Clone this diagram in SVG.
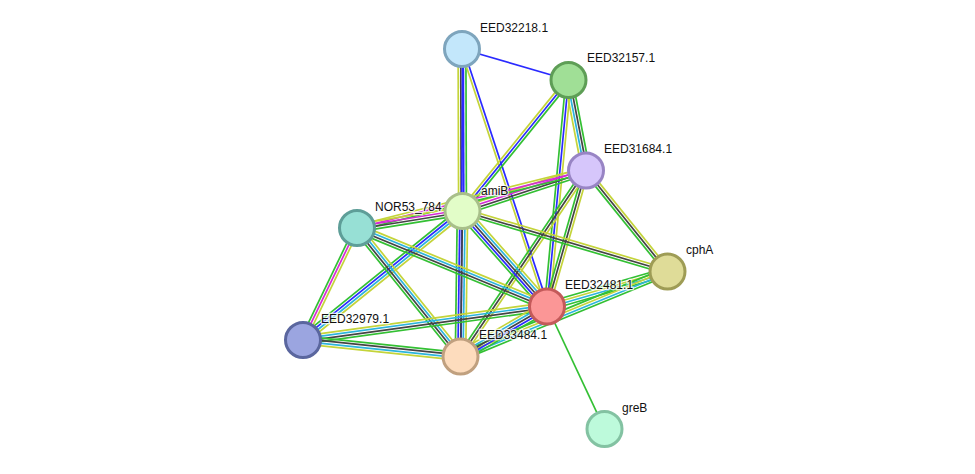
<svg xmlns="http://www.w3.org/2000/svg" width="975" height="474" viewBox="0 0 975 474">
<style>
line{stroke-width:1.7;fill:none}
.g{stroke:#33c033}.b{stroke:#2a2aff}.k{stroke:#444444}.m{stroke:#d62ad6}.c{stroke:#2cb4dc}.y{stroke:#c4d43a}
circle{stroke-width:3}
text{font-family:"Liberation Sans",Arial,sans-serif;font-size:12px;fill:#111;paint-order:stroke;stroke:#fff;stroke-width:2.5px;stroke-opacity:0.75}
</style>
<rect width="975" height="474" fill="#fff"/>
<g id="edges">
<g transform="translate(462,49) rotate(16.23)"><line class="b" x1="0" x2="110.9" y1="0" y2="0"/></g>
<g transform="translate(462,49) rotate(89.82)"><line class="g" x1="0" x2="162" y1="-3.9" y2="-3.9"/><line class="b" x1="0" x2="162" y1="-1.3" y2="-1.3"/><line class="k" x1="0" x2="162" y1="1.3" y2="1.3"/><line class="y" x1="0" x2="162" y1="3.9" y2="3.9"/></g>
<g transform="translate(462,49) rotate(90.28)"><line class="b" x1="0" x2="307.5" y1="-0.6" y2="-0.6"/></g>
<g transform="translate(462,49) rotate(71.73)"><line class="b" x1="0" x2="271.2" y1="-1.3" y2="-1.3"/><line class="y" x1="0" x2="271.2" y1="1.3" y2="1.3"/></g>
<g transform="translate(462.5,211) rotate(-51.02)"><line class="g" x1="0" x2="168.5" y1="2.6" y2="2.6"/><line class="b" x1="0" x2="168.5" y1="0" y2="0"/><line class="y" x1="0" x2="168.5" y1="-2.6" y2="-2.6"/></g>
<g transform="translate(568.5,80) rotate(95.42)"><line class="g" x1="0" x2="227.5" y1="2.6" y2="2.6"/><line class="b" x1="0" x2="227.5" y1="0" y2="0"/><line class="y" x1="0" x2="227.5" y1="-2.6" y2="-2.6"/></g>
<g transform="translate(568.5,80) rotate(79.06)"><line class="g" x1="0" x2="92.2" y1="-3.9" y2="-3.9"/><line class="k" x1="0" x2="92.2" y1="-1.3" y2="-1.3"/><line class="c" x1="0" x2="92.2" y1="1.3" y2="1.3"/><line class="y" x1="0" x2="92.2" y1="3.9" y2="3.9"/></g>
<g transform="translate(462.5,211) rotate(-18.16)"><line class="g" x1="0" x2="130" y1="3.9" y2="3.9"/><line class="k" x1="0" x2="130" y1="1.3" y2="1.3"/><line class="m" x1="0" x2="130" y1="-1.3" y2="-1.3"/><line class="y" x1="0" x2="130" y1="-3.9" y2="-3.9"/></g>
<g transform="translate(357,228) rotate(-14.10)"><line class="g" x1="0" x2="236.1" y1="2.6" y2="2.6"/><line class="m" x1="0" x2="236.1" y1="0" y2="0"/><line class="y" x1="0" x2="236.1" y1="-2.6" y2="-2.6"/></g>
<g transform="translate(586,170.5) rotate(51.1)"><line class="g" x1="0" x2="129.8" y1="2.6" y2="2.6"/><line class="k" x1="0" x2="129.8" y1="0" y2="0"/><line class="y" x1="0" x2="129.8" y1="-2.6" y2="-2.6"/></g>
<g transform="translate(586,170.5) rotate(106)"><line class="g" x1="0" x2="141.5" y1="2.6" y2="2.6"/><line class="k" x1="0" x2="141.5" y1="0" y2="0"/><line class="y" x1="0" x2="141.5" y1="-2.6" y2="-2.6"/></g>
<g transform="translate(586,170.5) rotate(124)"><line class="g" x1="0" x2="224.4" y1="2.6" y2="2.6"/><line class="k" x1="0" x2="224.4" y1="0" y2="0"/><line class="y" x1="0" x2="224.4" y1="-2.6" y2="-2.6"/></g>
<g transform="translate(357,228) rotate(-9.15)"><line class="g" x1="0" x2="106.9" y1="3.9" y2="3.9"/><line class="k" x1="0" x2="106.9" y1="1.3" y2="1.3"/><line class="m" x1="0" x2="106.9" y1="-1.3" y2="-1.3"/><line class="y" x1="0" x2="106.9" y1="-3.9" y2="-3.9"/></g>
<g transform="translate(462.5,211) rotate(16.44)"><line class="g" x1="0" x2="213.7" y1="2.6" y2="2.6"/><line class="k" x1="0" x2="213.7" y1="0" y2="0"/><line class="y" x1="0" x2="213.7" y1="-2.6" y2="-2.6"/></g>
<g transform="translate(462.5,211) rotate(48.5)"><line class="g" x1="0" x2="127.5" y1="5.2" y2="5.2"/><line class="b" x1="0" x2="127.5" y1="2.6" y2="2.6"/><line class="k" x1="0" x2="127.5" y1="0" y2="0"/><line class="c" x1="0" x2="127.5" y1="-2.6" y2="-2.6"/><line class="y" x1="0" x2="127.5" y1="-5.2" y2="-5.2"/></g>
<g transform="translate(462.5,211) rotate(141.04)"><line class="g" x1="0" x2="205.1" y1="3.9" y2="3.9"/><line class="b" x1="0" x2="205.1" y1="1.3" y2="1.3"/><line class="c" x1="0" x2="205.1" y1="-1.3" y2="-1.3"/><line class="y" x1="0" x2="205.1" y1="-3.9" y2="-3.9"/></g>
<g transform="translate(462.5,211) rotate(90.79)"><line class="g" x1="0" x2="145.5" y1="5.2" y2="5.2"/><line class="b" x1="0" x2="145.5" y1="2.6" y2="2.6"/><line class="k" x1="0" x2="145.5" y1="0" y2="0"/><line class="c" x1="0" x2="145.5" y1="-2.6" y2="-2.6"/><line class="y" x1="0" x2="145.5" y1="-5.2" y2="-5.2"/></g>
<g transform="translate(357,228) rotate(22.45)"><line class="g" x1="0" x2="205.6" y1="3.9" y2="3.9"/><line class="k" x1="0" x2="205.6" y1="1.3" y2="1.3"/><line class="c" x1="0" x2="205.6" y1="-1.3" y2="-1.3"/><line class="y" x1="0" x2="205.6" y1="-3.9" y2="-3.9"/></g>
<g transform="translate(357,228) rotate(115.74)"><line class="g" x1="0" x2="124.3" y1="2.6" y2="2.6"/><line class="m" x1="0" x2="124.3" y1="0" y2="0"/><line class="y" x1="0" x2="124.3" y1="-2.6" y2="-2.6"/></g>
<g transform="translate(357,228) rotate(51.15)"><line class="g" x1="0" x2="165" y1="3.9" y2="3.9"/><line class="k" x1="0" x2="165" y1="1.3" y2="1.3"/><line class="c" x1="0" x2="165" y1="-1.3" y2="-1.3"/><line class="y" x1="0" x2="165" y1="-3.9" y2="-3.9"/></g>
<g transform="translate(547,306.5) rotate(-16.2)"><line class="g" x1="0" x2="125.5" y1="3.9" y2="3.9"/><line class="c" x1="0" x2="125.5" y1="1.3" y2="1.3"/><line class="y" x1="0" x2="125.5" y1="-1.3" y2="-1.3"/><line class="g" x1="0" x2="125.5" y1="-3.9" y2="-3.9"/></g>
<g transform="translate(460.5,356.5) rotate(-22.33)"><line class="g" x1="0" x2="223.8" y1="3.9" y2="3.9"/><line class="c" x1="0" x2="223.8" y1="1.3" y2="1.3"/><line class="y" x1="0" x2="223.8" y1="-1.3" y2="-1.3"/><line class="g" x1="0" x2="223.8" y1="-3.9" y2="-3.9"/></g>
<g transform="translate(303,340) rotate(-7.82)"><line class="g" x1="0" x2="246.3" y1="3.9" y2="3.9"/><line class="k" x1="0" x2="246.3" y1="1.3" y2="1.3"/><line class="c" x1="0" x2="246.3" y1="-1.3" y2="-1.3"/><line class="y" x1="0" x2="246.3" y1="-3.9" y2="-3.9"/></g>
<g transform="translate(460.5,356.5) rotate(-30.03)"><line class="g" x1="0" x2="99.9" y1="5.2" y2="5.2"/><line class="b" x1="0" x2="99.9" y1="2.6" y2="2.6"/><line class="k" x1="0" x2="99.9" y1="0" y2="0"/><line class="c" x1="0" x2="99.9" y1="-2.6" y2="-2.6"/><line class="y" x1="0" x2="99.9" y1="-5.2" y2="-5.2"/></g>
<g transform="translate(547,306.5) rotate(64.85)"><line class="g" x1="0" x2="135.3" y1="0" y2="0"/></g>
<g transform="translate(303,340) rotate(5.98)"><line class="g" x1="0" x2="158.4" y1="-3.9" y2="-3.9"/><line class="k" x1="0" x2="158.4" y1="-1.3" y2="-1.3"/><line class="c" x1="0" x2="158.4" y1="1.3" y2="1.3"/><line class="y" x1="0" x2="158.4" y1="3.9" y2="3.9"/></g>
</g>
<g id="EED32218.1"><circle cx="462" cy="49" r="17.5" fill="#c3e7fb" stroke="#7ea5bd"/><text x="480" y="32">EED32218.1</text></g>
<g id="EED32157.1"><circle cx="568.5" cy="80" r="17.5" fill="#a0df96" stroke="#5e9e56"/><text x="587" y="62">EED32157.1</text></g>
<g id="EED31684.1"><circle cx="586" cy="170.5" r="17.5" fill="#d6c6fb" stroke="#9884c4"/><text x="604" y="153">EED31684.1</text></g>
<g id="NOR53_784"><circle cx="357" cy="228" r="17.5" fill="#97e0d5" stroke="#5e9e98"/><text x="375" y="211">NOR53_784</text></g>
<g id="amiB"><circle cx="462.5" cy="211" r="17.5" fill="#e2fdc8" stroke="#a8bf8a"/><text x="481" y="195">amiB</text></g>
<g id="cphA"><circle cx="667.5" cy="271.5" r="17.5" fill="#dfdc98" stroke="#9e9c55"/><text x="686" y="254">cphA</text></g>
<g id="EED32979.1"><circle cx="303" cy="340" r="17.5" fill="#9ba5e0" stroke="#5a669e"/><text x="321" y="323">EED32979.1</text></g>
<g id="EED33484.1"><circle cx="460.5" cy="356.5" r="17.5" fill="#fddcbd" stroke="#c0a07f"/><text x="479" y="339">EED33484.1</text></g>
<g id="EED32481.1"><circle cx="547" cy="306.5" r="17.5" fill="#fb9696" stroke="#c45a5a"/><text x="565" y="289">EED32481.1</text></g>
<g id="greB"><circle cx="604.5" cy="429" r="17.5" fill="#bdfadb" stroke="#83c2a2"/><text x="622" y="412">greB</text></g>
</svg>
